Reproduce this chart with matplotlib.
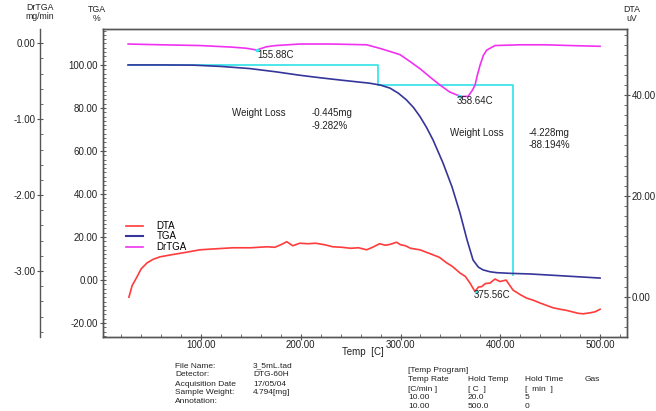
import matplotlib
matplotlib.use("Agg")
import matplotlib.pyplot as plt
from matplotlib.ticker import MultipleLocator, FormatStrFormatter
from matplotlib.lines import Line2D

plt.rcParams['font.family'] = ['Liberation Sans', 'DejaVu Sans']
plt.rcParams['axes.unicode_minus'] = False

# ---- data ----
tga_temp = [27, 60, 92, 120, 149, 175, 199, 220, 239, 255, 269, 280, 289.5, 298, 306, 313, 319.5, 326, 332.6,
            342.6, 351.6, 359.6, 366.7, 372.7, 378, 382.7, 390, 396.7, 409.8, 430, 460, 500]
tga_val = [100, 100, 99.9, 99.3, 98.3, 96.8, 95.2, 94.0, 93.0, 92.2, 91.5, 90.6, 89.2, 86.8, 83.7, 80.2, 76.0,
           71.0, 65.1, 54.4, 43.3, 31.2, 18.6, 9.3, 6.0, 4.7, 3.8, 3.4, 3.1, 2.8, 2.0, 0.9]

dta_temp = [27.8, 31, 35.8, 40, 45.9, 52, 58.9, 70, 85, 99, 115, 132, 150, 166, 174, 180, 186, 192, 199, 207, 215,
            224, 232, 241, 250, 258, 266, 272, 279, 285, 290, 296, 300, 305, 310, 316, 319.5, 326, 332.6, 339,
            346.3, 352, 359.6, 365, 369.6, 374.7, 378, 381.4, 385, 389.7, 394.7, 399.7, 405.8, 412.8, 420,
            426.5, 433, 439.8, 446, 452.8, 459.9, 466, 472, 478, 483, 490, 495, 500]
dta_val = [-0.1, 2.2, 3.9, 5.5, 6.7, 7.4, 7.9, 8.3, 8.8, 9.3, 9.5, 9.7, 9.7, 9.9, 9.8, 10.3, 10.9, 10.1, 10.6,
           10.5, 10.6, 10.3, 9.9, 9.8, 9.6, 9.7, 9.3, 9.8, 10.5, 10.2, 10.4, 10.8, 10.3, 10.1, 9.6, 9.4, 9.3,
           8.8, 8.3, 7.8, 6.7, 6.0, 4.7, 4.0, 2.7, 1.0, 1.9, 2.0, 2.6, 2.7, 3.5, 3.0, 3.3, 1.3, 0.4, -0.3,
           -0.7, -1.25, -1.7, -2.2, -2.5, -2.7, -3.0, -3.3, -3.4, -3.2, -3.0, -2.5]

drtga_temp = [27, 60, 99, 130, 145, 152, 155.9, 160, 166, 175, 199, 230, 266, 279, 290, 299.5, 309.5, 320, 330,
              339.6, 349, 356.3, 361, 367.7, 372, 374.7, 377, 379.7, 383, 386.4, 394.7, 420, 445, 470, 500]
drtga_val = [-0.01, -0.02, -0.03, -0.05, -0.065, -0.08, -0.09, -0.07, -0.045, -0.03, -0.01, -0.01, -0.02,
             -0.066, -0.11, -0.15, -0.24, -0.34, -0.45, -0.55, -0.64, -0.68, -0.70, -0.70, -0.62, -0.55, -0.42,
             -0.29, -0.16, -0.09, -0.03, -0.02, -0.02, -0.03, -0.04]

step_temp = [27, 277.4, 277.4, 412.8, 412.8]
step_val = [100, 100, 100 - 9.282, 100 - 9.282, 100 - 9.282 - 88.194]

peaks_dr = [(155.88, -0.09), (358.64, -0.70)]
peak_dta = (375.56, 1.0)

info_left = [("File Name:", "3_5mL.tad"), ("Detector:", "DTG-60H"), ("Acquisition Date", "17/05/04"),
             ("Sample Weight:", "4.794[mg]"), ("Annotation:", "")]
info_right = [["[Temp Program]"], ["Temp Rate", "Hold Temp", "Hold Time", "Gas"],
              ["[C/min ]", "[ C  ]", "[  min  ]"], ["10.00", "20.0", "5"], ["10.00", "500.0", "0"]]

# ---- colours ----
c_dta = '#ff3b3b'
c_tga = '#35359a'
c_dr = '#f032f0'
c_step = '#3ee4ea'
c_axis = '#555555'
c_text = '#222222'

W, H = 656, 411
fig = plt.figure(figsize=(W / 100, H / 100), dpi=100)
L, R, B, T = 103 / W, 627 / W, 1 - 337 / H, 1 - 29 / H
ax = fig.add_axes([L, B, R - L, T - B])
ax2 = ax.twinx()   # DTA right
ax3 = ax.twinx()   # DrTGA far left

fs = 7

ax.plot(step_temp, step_val, color=c_step, lw=1.3)
ax.plot(tga_temp, tga_val, color=c_tga, lw=1.2)
ax2.plot(dta_temp, dta_val, color=c_dta, lw=1.2)
ax3.plot(drtga_temp, drtga_val, color=c_dr, lw=1.2)
for p in peaks_dr:
    ax3.plot([p[0]], [p[1]], marker='s', ms=2, color=c_step, lw=0)
ax2.plot([peak_dta[0]], [peak_dta[1]], marker='s', ms=2, color=c_step, lw=0)

ax.set_xlim(1.8, 527)
ax.set_ylim(-26.5, 116.7)
ax2.set_ylim(-8.0, 53.1)
ax3.set_ylim(-3.87, 0.188)

ax.xaxis.set_major_locator(MultipleLocator(100))
ax.xaxis.set_minor_locator(MultipleLocator(20))
ax.xaxis.set_major_formatter(FormatStrFormatter('%.2f'))
ax.yaxis.set_major_locator(MultipleLocator(20))
ax.yaxis.set_minor_locator(MultipleLocator(2))
ax.yaxis.set_major_formatter(FormatStrFormatter('%.2f'))
ax2.yaxis.set_major_locator(MultipleLocator(20))
ax2.yaxis.set_minor_locator(MultipleLocator(2))
ax2.yaxis.set_major_formatter(FormatStrFormatter('%.2f'))
ax3.yaxis.set_major_locator(MultipleLocator(1))
ax3.yaxis.set_minor_locator(MultipleLocator(0.2))
ax3.yaxis.set_major_formatter(FormatStrFormatter('%.2f'))

ax3.yaxis.set_ticks_position('left')
ax3.yaxis.set_label_position('left')
ax3.spines['left'].set_position(('axes', -63 / (627 - 103)))
for s in ['right', 'top', 'bottom']:
    ax3.spines[s].set_visible(False)
ax3.patch.set_visible(False)

for a in (ax, ax2, ax3):
    for s in a.spines.values():
        s.set_color(c_axis)
        s.set_linewidth(1.0)
    a.tick_params(which='major', direction='inout', length=5, width=0.8, color=c_axis,
                  labelsize=fs, labelcolor=c_text, pad=1)
    a.tick_params(which='minor', direction='in', length=2.5, width=0.6, color=c_axis)
ax.tick_params(axis='x', pad=0)

# axis titles
fig.text(40 / W, 1 - 12 / H, "DrTGA\nmg/min", fontsize=6.3, ha='center', va='center', color=c_text, linespacing=0.9)
fig.text(97 / W, 1 - 14 / H, "TGA\n%", fontsize=6.3, ha='center', va='center', color=c_text, linespacing=0.9)
fig.text(632 / W, 1 - 14 / H, "DTA\nuV", fontsize=6.3, ha='center', va='center', color=c_text, linespacing=0.9)
fig.text(363 / W, 1 - 352 / H, "Temp  [C]", fontsize=fs, ha='center', va='center', color=c_text)

# annotations
def ftxt(x, y, s, size=fs, **kw):
    fig.text(x / W, 1 - y / H, s, fontsize=size, va='center', color=c_text, **kw)

ftxt(232, 113, "Weight Loss")
ftxt(312, 113, "-0.445mg")
ftxt(312, 126, "-9.282%")
ftxt(450, 133, "Weight Loss")
ftxt(529, 133, "-4.228mg")
ftxt(529, 145, "-88.194%")
ftxt(257, 55, "155.88C")
ftxt(457, 101, "358.64C")
ftxt(474, 295, "375.56C")

# legend
handles = [Line2D([], [], color=c_dta, lw=1.2), Line2D([], [], color=c_tga, lw=1.5),
           Line2D([], [], color=c_dr, lw=1.2)]
fig.legend(handles, ["DTA", "TGA", "DrTGA"], loc='upper left', bbox_to_anchor=(126 / W, 1 - 221 / H),
           frameon=False, fontsize=fs, handlelength=1.75, handletextpad=1.4, labelspacing=0.05,
           borderpad=0, borderaxespad=0)

# info block
fsi = 6
ys_left = [366, 374.5, 384, 392.5, 401]
for (k, v), y in zip(info_left, ys_left):
    ftxt(175, y, k, size=fsi)
    if v:
        ftxt(253, y, v, size=fsi)
ys_right = [370, 379, 389, 397.5, 406]
xs_right = [408, 468, 525, 585]
for row, y in zip(info_right, ys_right):
    for s, x in zip(row, xs_right):
        ftxt(x, y, s, size=fsi)

fig.savefig("out.png", dpi=100)
